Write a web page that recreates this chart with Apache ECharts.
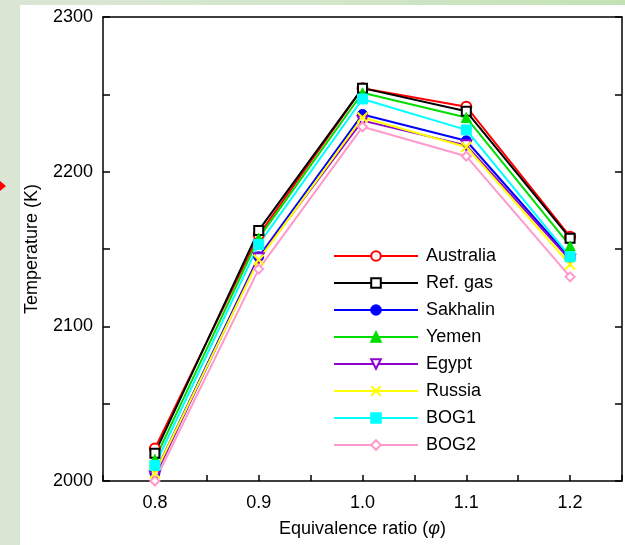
<!DOCTYPE html>
<html>
<head>
<meta charset="utf-8">
<script src="https://cdn.jsdelivr.net/npm/echarts@6/dist/echarts.min.js"></script>
<style>
  html, body { margin: 0; padding: 0; }
  #wrap { position: relative; width: 625px; height: 545px; overflow: hidden;
    background: linear-gradient(90deg, #dbe6d5 0%, #d3e6cb 50%, #c3e2b4 100%); }
  #panel { position: absolute; left: 20px; top: 5px; right: 0; bottom: 0; background: #ffffff; }
  #chart { position: absolute; left: 0; top: 0; width: 625px; height: 545px; }
</style>
</head>
<body>
<div id="wrap"><div id="panel"></div><div id="chart"></div></div>
<script>
const ratios = [0.8, 0.9, 1.0, 1.1, 1.2];
const australia = [2021, 2159, 2254, 2242, 2158];
const refGas    = [2018, 2162, 2254, 2239, 2157];
const sakhalin  = [2005, 2145, 2237, 2220, 2144];
const yemen     = [2014, 2157, 2251, 2235, 2152];
const egypt     = [2003, 2144, 2233, 2217, 2143];
const russia    = [2005, 2143, 2235, 2216, 2140];
const bog1      = [2010, 2153, 2247, 2227, 2145];
const bog2      = [2000, 2137, 2229, 2210, 2132];
const xTickLabels = ['0.8', '0.9', '1.0', '1.1', '1.2'];
const yTickLabels = ['2000', '2100', '2200', '2300'];

const FONT = 'Liberation Sans, Arial, sans-serif';
const pair = arr => ratios.map((r, i) => [r, arr[i]]);

function mk(name, data, color, symbol, opts) {
  opts = opts || {};
  return Object.assign({
    name: name,
    type: 'line',
    data: pair(data),
    symbol: symbol,
    symbolSize: opts.size || 9,
    lineStyle: { color: color, width: 2 },
    itemStyle: Object.assign({ color: color, borderColor: color, borderWidth: 1 }, opts.item || {}),
    emphasis: { disabled: true },
    animation: false
  }, opts.extra || {});
}

const series = [
  mk('Australia', australia, '#ff0000', 'emptyCircle', { size: 10 }),
  mk('Ref. gas', refGas, '#000000', 'emptyRect', { size: 9 }),
  mk('Sakhalin', sakhalin, '#0000ff', 'circle', { size: 10 }),
  mk('Yemen', yemen, '#00dd00', 'triangle', { size: 10 }),
  mk('Egypt', egypt, '#9000d0', 'emptyTriangle', { size: 10, extra: { symbolRotate: 180 } }),
  mk('Russia', russia, '#ffff00', 'path://M0,0L10,10M10,0L0,10', { size: 10, item: { borderWidth: 2 } }),
  mk('BOG1', bog1, '#00ffff', 'rect', { size: 10 }),
  mk('BOG2', bog2, '#ff99cc', 'emptyDiamond', { size: 9 })
];

const chart = echarts.init(document.getElementById('chart'), null, { renderer: 'canvas' });
chart.setOption({
  backgroundColor: 'transparent',
  animation: false,
  grid: { left: 103, right: 2, top: 17, bottom: 64, containLabel: false },
  legend: {
    orient: 'vertical',
    left: 333,
    top: 247,
    padding: 0,
    itemWidth: 84,
    itemHeight: 12,
    itemGap: 9,
    textStyle: { fontFamily: FONT, fontSize: 18, color: '#000', lineHeight: 18, padding: [0, 0, 0, 3] },
    data: series.map(s => s.name),
    selectedMode: false
  },
  xAxis: [{
    type: 'value',
    min: 0.75, max: 1.25, interval: 0.05,
    name: 'Equivalence ratio ({i|φ})',
    nameLocation: 'middle',
    nameGap: 39,
    nameTextStyle: { fontFamily: FONT, fontSize: 18, color: '#000',
      rich: { i: { fontFamily: FONT, fontSize: 18, fontStyle: 'italic', color: '#000' } } },
    axisLine: { onZero: false, lineStyle: { color: '#000', width: 1.5 } },
    axisTick: { inside: true, length: 6, lineStyle: { color: '#000', width: 1.5 } },
    splitLine: { show: false },
    axisLabel: {
      margin: 13, fontFamily: FONT, fontSize: 18, color: '#000',
      formatter: v => {
        const k = Math.round(v * 10);
        const idx = xTickLabels.indexOf((k / 10).toFixed(1));
        return (Math.abs(v * 10 - k) < 1e-6 && idx >= 0) ? xTickLabels[idx] : '';
      }
    }
  }, {
    type: 'value', position: 'top',
    min: 0.75, max: 1.25, interval: 0.05,
    axisLine: { show: true, onZero: false, lineStyle: { color: '#000', width: 1.5 } },
    axisTick: { show: false }, axisLabel: { show: false }, splitLine: { show: false }
  }],
  yAxis: [{
    type: 'value',
    min: 2000, max: 2300, interval: 50,
    name: 'Temperature (K)',
    nameLocation: 'middle',
    nameGap: 62,
    nameTextStyle: { fontFamily: FONT, fontSize: 18, color: '#000' },
    axisLine: { show: true, onZero: false, lineStyle: { color: '#000', width: 1.5 } },
    axisTick: { show: true, inside: true, length: 7, lineStyle: { color: '#000', width: 1.5 } },
    splitLine: { show: false },
    axisLabel: {
      margin: 10, fontFamily: FONT, fontSize: 18, color: '#000',
      formatter: v => { const s = String(Math.round(v)); return yTickLabels.indexOf(s) >= 0 ? s : ''; }
    }
  }, {
    type: 'value', position: 'right',
    min: 2000, max: 2300, interval: 50,
    axisLine: { show: true, onZero: false, lineStyle: { color: '#000', width: 1.5 } },
    axisTick: { show: true, inside: true, length: 7, lineStyle: { color: '#000', width: 1.5 } },
    axisLabel: { show: false }, splitLine: { show: false }
  }],
  graphic: [{
    type: 'polygon',
    shape: { points: [[0, 181], [6, 186], [0, 191]] },
    style: { fill: '#ff0000' }
  }],
  series: series
});
</script>
</body>
</html>
